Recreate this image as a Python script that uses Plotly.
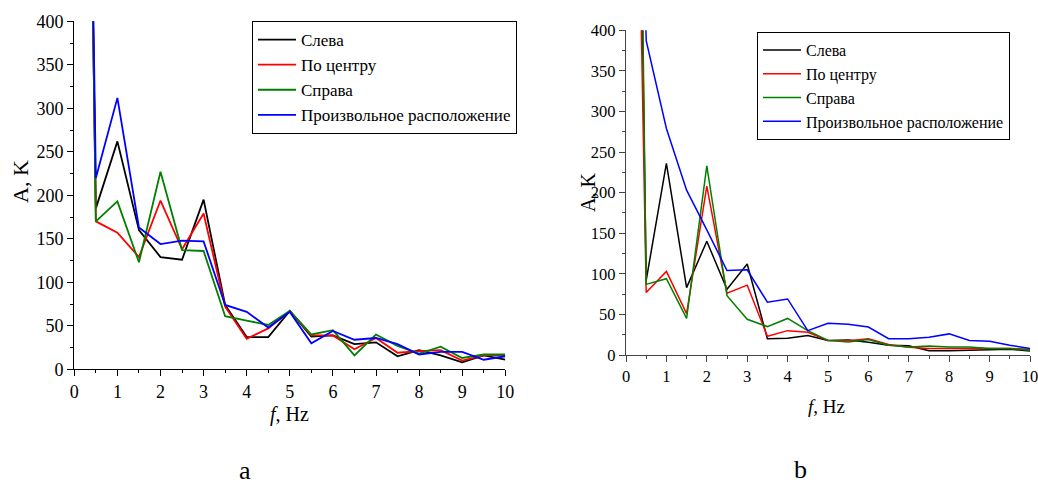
import plotly.graph_objects as go

# ---- data ----
freq = [0, 0.5, 1, 1.5, 2, 2.5, 3, 3.5, 4, 4.5, 5, 5.5, 6, 6.5, 7, 7.5, 8, 8.5, 9, 9.5, 10]
series_names = ["Слева", "По центру", "Справа", "Произвольное расположение"]

# panel a
left_a = [1850, 185, 262, 160, 129, 126, 195, 74, 37, 37, 67, 37.5, 39, 29, 31, 15, 22, 16, 8, 16, 11]
center_a = [1930, 170, 157, 129, 194, 138, 179, 72, 35, 47, 67, 39, 39, 23, 36, 19, 21, 22, 10, 16, 16]
right_a = [1930, 170, 193, 123, 227, 137, 136, 61, 56, 51, 67, 40, 45, 16, 40, 27, 18, 26, 13, 17, 17]
arbitrary_a = [1860, 220, 312, 163, 144, 148, 147, 74, 66, 48, 66, 30, 44, 34, 36, 29, 17, 20, 20, 11, 15]

# panel b
left_b = [1800, 92, 236, 83, 140, 81, 112, 20, 20.5, 24, 18, 18.5, 15.6, 12, 11.5, 5.3, 5.3, 6, 7, 7, 5]
center_b = [1420, 77, 103, 51, 208, 76, 86, 23, 30, 28, 18, 17.7, 20, 13, 9.5, 8, 8, 8, 8, 8, 7]
right_b = [2040, 87, 94, 45, 233, 73, 44, 35, 45, 30, 18, 16, 19, 12, 10, 11, 10, 10, 8, 8, 6]
arbitrary_b = [1500, 387, 279, 203, 154, 104, 105, 65, 69, 30, 39, 38, 34.5, 20, 20, 22, 26, 18, 17, 12, 8]

colors = ["#000000", "#ff0000", "#008000", "#0000ff"]
x_ticks = list(range(0, 11))
y_ticks = list(range(0, 401, 50))

FONT = "Liberation Serif"
W, H = 1038, 488

fig = go.Figure()
for name, ys, c in zip(series_names, [left_a, center_a, right_a, arbitrary_a], colors):
    fig.add_trace(go.Scatter(x=freq, y=ys, mode="lines", name=name,
                             line=dict(color=c, width=1.8),
                             xaxis="x", yaxis="y", legend="legend"))
for name, ys, c in zip(series_names, [left_b, center_b, right_b, arbitrary_b], colors):
    fig.add_trace(go.Scatter(x=freq, y=ys, mode="lines", name=name,
                             line=dict(color=c, width=1.5),
                             xaxis="x2", yaxis="y2", legend="legend2"))

def xax(domain, anchor, col, size):
    return dict(domain=domain, anchor=anchor, range=[0, 10], tickvals=x_ticks,
                automargin=False, ticklabeloverflow="allow",
                showgrid=False, zeroline=False, showline=True, linecolor=col, linewidth=1.3,
                ticks="outside", ticklen=6, tickwidth=1.3, tickcolor=col,
                minor=dict(ticks="outside", ticklen=3, dtick=0.5, tickcolor=col, tickwidth=1),
                tickfont=dict(family=FONT, size=size, color="black"), fixedrange=True)

def yax(domain, anchor, col, size):
    return dict(domain=domain, anchor=anchor, range=[0, 400], tickvals=y_ticks,
                automargin=False,
                showgrid=False, zeroline=False, showline=True, linecolor=col, linewidth=1.3,
                ticks="outside", ticklen=6, tickwidth=1.3, tickcolor=col,
                minor=dict(ticks="outside", ticklen=3, dtick=25, tickcolor=col, tickwidth=1),
                tickfont=dict(family=FONT, size=size, color="black"), fixedrange=True)

fig.update_layout(
    width=W, height=H,
    margin=dict(l=0, r=0, t=0, b=0, autoexpand=False),
    paper_bgcolor="white", plot_bgcolor="white",
    xaxis=xax([74.3 / W, 505.3 / W], "y", "black", 18),
    yaxis=yax([1 - 369.3 / H, 1 - 21.3 / H], "x", "black", 18),
    xaxis2=xax([626 / W, 1030 / W], "y2", "#444444", 16.5),
    yaxis2=yax([1 - 355 / H, 1 - 30.2 / H], "x2", "#444444", 16.5),
    legend=dict(x=252 / W, y=1 - 21 / H, xanchor="left", yanchor="top",
                bordercolor="black", borderwidth=1, bgcolor="white",
                font=dict(family=FONT, size=17, color="black"), itemwidth=38,
                tracegroupgap=0),
    legend2=dict(x=757 / W, y=1 - 32 / H, xanchor="left", yanchor="top",
                 bordercolor="black", borderwidth=1, bgcolor="white",
                 font=dict(family=FONT, size=16, color="black"), itemwidth=38,
                 tracegroupgap=0),
    showlegend=True,
)

ann = []
def txt(x, y, s, size, angle=0):
    ann.append(dict(x=x / W, y=1 - y / H, xref="paper", yref="paper", text=s,
                    showarrow=False, xanchor="center", yanchor="middle", textangle=angle,
                    font=dict(family=FONT, size=size, color="black")))

txt(289, 414, "<i>f</i>, Hz", 20)
txt(826, 406, "<i>f</i>, Hz", 19)
txt(20, 182, "A, K", 22, -90)
txt(588, 193, "A, K", 20, -90)
txt(245, 470, "a", 26)
txt(800, 469, "b", 26)
fig.update_layout(annotations=ann)

fig.write_html("out.html",
               config={"displayModeBar": False},
               post_script="document.body.style.margin='0';document.body.style.padding='0';")
